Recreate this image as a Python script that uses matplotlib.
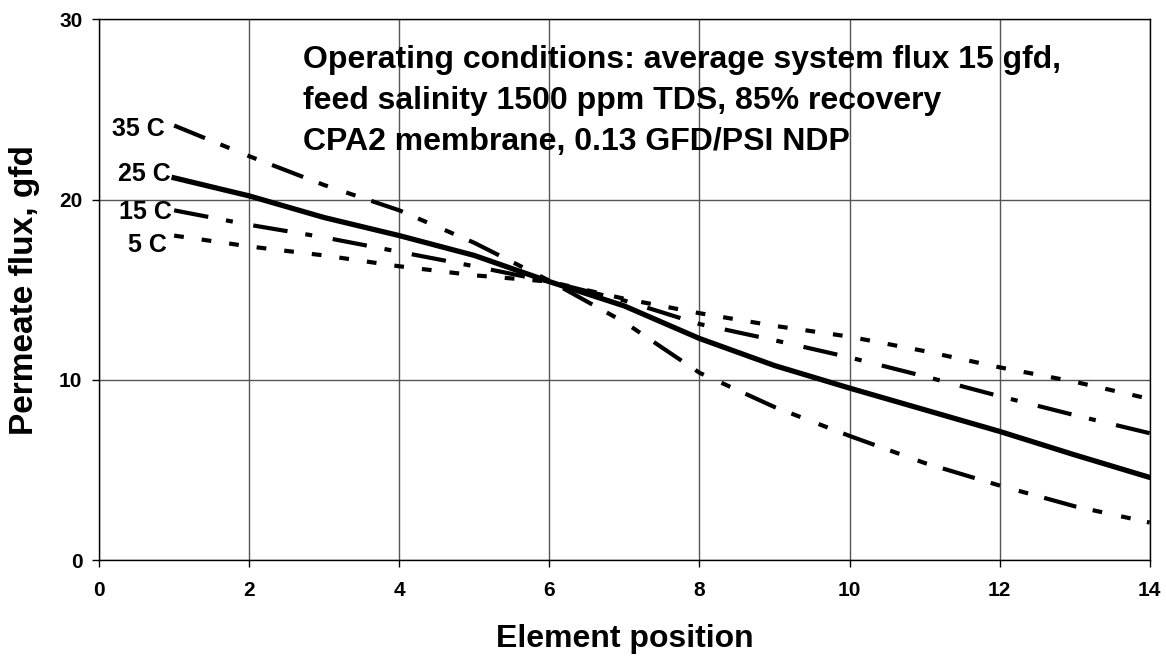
import matplotlib
matplotlib.use("Agg")
import matplotlib.pyplot as plt

plt.rcParams['font.family'] = ['Liberation Sans', 'DejaVu Sans']
plt.rcParams['lines.scale_dashes'] = False

# element positions 1..14
position = list(range(1, 15))

flux_35c = [24.1, 22.4, 20.8, 19.4, 17.6, 15.5, 13.2, 10.4, 8.5, 6.9, 5.4, 4.15, 3.0, 2.1]
flux_25c = [21.2, 20.2, 19.0, 18.0, 16.9, 15.45, 14.1, 12.3, 10.8, 9.55, 8.35, 7.15, 5.85, 4.6]
flux_15c = [19.4, 18.6, 17.9, 17.1, 16.3, 15.45, 14.4, 13.1, 12.2, 11.25, 10.2, 9.1, 8.05, 7.05]
flux_5c = [18.0, 17.4, 16.9, 16.3, 15.8, 15.45, 14.5, 13.7, 13.0, 12.4, 11.6, 10.7, 9.9, 8.95]

series_labels = ['35 C', '25 C', '15 C', '5 C']
note_lines = ['Operating conditions: average system flux 15 gfd,',
              'feed salinity 1500 ppm TDS, 85% recovery',
              'CPA2 membrane, 0.13 GFD/PSI NDP']

fig = plt.figure(figsize=(11.66, 6.57), dpi=100)
ax = fig.add_axes([0.085, 0.147, 0.901, 0.824])

ax.plot(position, flux_35c, color='black', lw=3.0, dashes=(24, 12, 7, 14, 7, 12))
ax.plot(position, flux_25c, color='black', lw=3.8, solid_joinstyle='round')
ax.plot(position, flux_15c, color='black', lw=3.0, dashes=(25, 13, 5, 15))
ax.plot(position, flux_5c, color='black', lw=3.0, dashes=(7, 13))

# series labels just left of the first point
label_nudge = [(-0.12, -0.2), (-0.05, 0.2), (-0.03, -0.1), (-0.1, -0.5)]
for lab, vals, (dx, dy) in zip(series_labels, [flux_35c, flux_25c, flux_15c, flux_5c], label_nudge):
    ax.text(position[0] + dx, vals[0] + dy, lab, ha='right', va='center',
            fontsize=18, fontweight='bold')

# note block, one line at a time
for i, line in enumerate(note_lines):
    ax.text(2.72, 27.3 - 2.27 * i, line, ha='left', va='baseline', fontsize=23,
            fontweight='bold')

ax.set_xlim(0, 14)
ax.set_ylim(0, 30)
ax.set_xticks(range(0, 15, 2))
ax.set_yticks([0, 10, 20, 30])
ax.grid(True, color='#555555', lw=1.0)
ax.set_axisbelow(True)
for sp in ax.spines.values():
    sp.set_color('black')
    sp.set_linewidth(1.0)
ax.tick_params(direction='out', length=5, width=1, labelsize=15)
ax.tick_params(axis='x', pad=10)
ax.tick_params(axis='y', pad=7)
for t in ax.get_xticklabels() + ax.get_yticklabels():
    t.set_fontweight('bold')

ax.set_xlabel('Element position', fontsize=23, fontweight='bold')
ax.set_ylabel('Permeate flux, gfd', fontsize=24, fontweight='bold')
ax.xaxis.set_label_coords(0.5, -0.118)
ax.yaxis.set_label_coords(-0.056, 0.5)

fig.savefig('out.png', dpi=100)
